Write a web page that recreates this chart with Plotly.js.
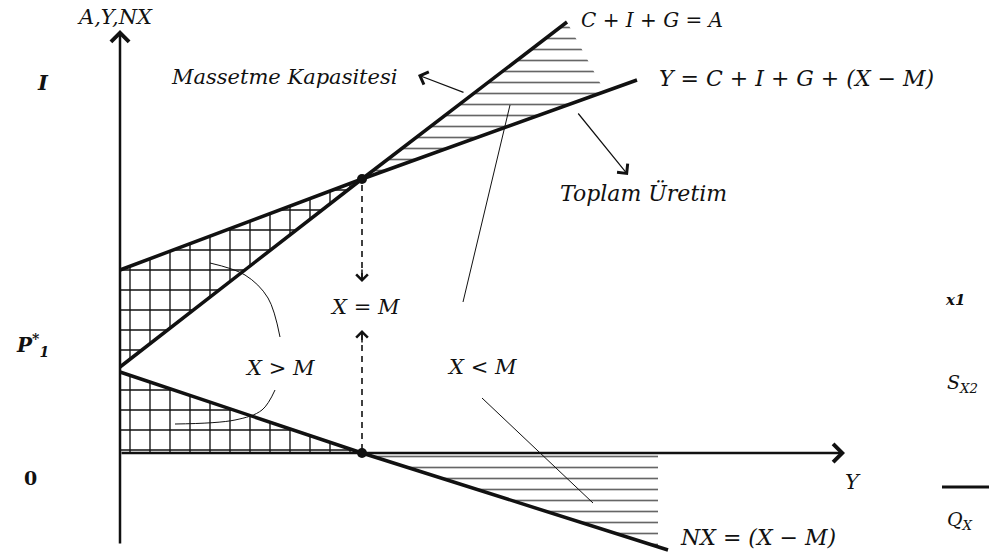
<!DOCTYPE html>
<html>
<head>
<meta charset="utf-8">
<script src="https://cdn.plot.ly/plotly-3.0.1.min.js"></script>
<style>html,body{margin:0;padding:0;background:#fff;}#chart{width:989px;height:559px;}</style>
</head>
<body>
<div id="chart"></div>
<script>
// ---- data (units: income Y on x, A/Y/NX on y; origin at 0,0) ----
const lineA_x = [0, 242, 447];          // C + I + G = A (absorption)
const lineA_y = [86, 274, 431];
const lineY_x = [0, 242, 517];          // Y = C + I + G + (X - M)
const lineY_y = [183, 274, 373];
const lineNX_x = [0, 242, 548];         // NX = (X - M)
const lineNX_y = [81, 0, -97];
const eq_x = [242, 242];                // equilibrium points
const eq_y = [274, 0];
const surplusTop_x = [0, 242, 0];       // X > M region (between Y and A)
const surplusTop_y = [86, 274, 183];
const surplusBot_x = [0, 242, 0];       // X > M region (NX > 0)
const surplusBot_y = [81, 0, 0];
const deficitTop_x = [242, 447, 485];   // X < M region (A above Y)
const deficitTop_y = [274, 431, 361];
const deficitBot_x = [242, 538, 538];   // X < M region (NX < 0)
const deficitBot_y = [0, 0, -94];
const dashUp_x = [242, 242];            // dashed guide from upper equilibrium
const dashUp_y = [268, 172];
const dashDn_x = [242, 242];            // dashed guide from lower equilibrium
const dashDn_y = [3, 121];
const ptrXM1_x = [343, 390];            // X < M pointer lines
const ptrXM1_y = [151, 348];
const ptrXM2_x = [362, 473];
const ptrXM2_y = [55, -50];
const curveGT1_x = [90, 125, 148, 160]; // X > M pointer curves
const curveGT1_y = [190, 178, 155, 116];
const curveGT2_x = [155, 142, 115, 55];
const curveGT2_y = [63, 43, 33, 29];
const rightBar_x = [822, 869];
const rightBar_y = [-34, -34];

// pixel helper for label placement (x0=120px, y0=453px)
const P = (px, py) => ({x: px - 120, y: 453 - py});

const serif = "DejaVu Serif";
const black = "#111";

const grid = {shape: '+', size: 20, solidity: 0.13, fgcolor: '#111', bgcolor: '#fff'};
const dashes = {shape: '-', size: 11, solidity: 0.15, fgcolor: '#666', bgcolor: '#fff'};

const traces = [
  {x: surplusTop_x, y: surplusTop_y, fill: 'toself', mode: 'none', fillcolor: 'rgba(0,0,0,0)', fillpattern: grid},
  {x: surplusBot_x, y: surplusBot_y, fill: 'toself', mode: 'none', fillcolor: 'rgba(0,0,0,0)', fillpattern: grid},
  {x: deficitTop_x, y: deficitTop_y, fill: 'toself', mode: 'none', fillcolor: 'rgba(0,0,0,0)', fillpattern: dashes},
  {x: deficitBot_x, y: deficitBot_y, fill: 'toself', mode: 'none', fillcolor: 'rgba(0,0,0,0)', fillpattern: dashes},
  {x: lineA_x, y: lineA_y, mode: 'lines', line: {color: black, width: 3.5}},
  {x: lineY_x, y: lineY_y, mode: 'lines', line: {color: black, width: 3.5}},
  {x: lineNX_x, y: lineNX_y, mode: 'lines', line: {color: black, width: 3.5}},
  {x: dashUp_x, y: dashUp_y, mode: 'lines', line: {color: black, width: 1.6, dash: '6px,5px'}},
  {x: dashDn_x, y: dashDn_y, mode: 'lines', line: {color: black, width: 1.6, dash: '6px,5px'}},
  {x: ptrXM1_x, y: ptrXM1_y, mode: 'lines', line: {color: black, width: 1}},
  {x: ptrXM2_x, y: ptrXM2_y, mode: 'lines', line: {color: black, width: 1}},
  {x: curveGT1_x, y: curveGT1_y, mode: 'lines', line: {color: black, width: 1, shape: 'spline'}},
  {x: curveGT2_x, y: curveGT2_y, mode: 'lines', line: {color: black, width: 1, shape: 'spline'}},
  {x: rightBar_x, y: rightBar_y, mode: 'lines', line: {color: black, width: 3}},
  {x: eq_x, y: eq_y, mode: 'markers', marker: {color: black, size: 10}}
];

function label(px, py, text, size, extra) {
  const p = P(px, py);
  return Object.assign({x: p.x, y: p.y, xref: 'x', yref: 'y', text: text, showarrow: false,
    xanchor: 'center', yanchor: 'middle',
    font: {family: serif, size: size, color: black, style: 'italic'}}, extra || {});
}
function arrow(tailPx, tailPy, tipPx, tipPy, width, head, hsize) {
  const t = P(tailPx, tailPy), h = P(tipPx, tipPy);
  return {x: h.x, y: h.y, ax: t.x, ay: t.y, xref: 'x', yref: 'y', axref: 'x', ayref: 'y',
    text: '', showarrow: true, arrowhead: head, arrowwidth: width, arrowsize: hsize, arrowcolor: black, standoff: 0};
}

const annotations = [
  // axes
  arrow(120, 545, 120, 30, 2.5, 4, 1.4),
  arrow(120, 453, 845, 453, 2.5, 4, 1.4),
  // dashed arrow heads
  arrow(362, 268, 362, 282, 1.5, 4, 1.5),
  arrow(362, 344, 362, 330, 1.5, 4, 1.5),
  // pointers
  arrow(465, 93, 418, 75, 1.2, 4, 2.2),
  arrow(577, 112, 628, 175, 1.2, 4, 2.2),
  // texts
  label(115, 17, 'A,Y,NX', 21),
  label(43, 82, '<b>I</b>', 21),
  label(284, 77, 'Massetme Kapasitesi', 21),
  label(652, 20, 'C + I + G = A', 20),
  label(796, 78, 'Y = C + I + G + (X − M)', 22),
  label(643, 193, 'Toplam Üretim', 22),
  label(365, 307, 'X = M', 21),
  label(280, 368, 'X &gt; M', 21),
  label(482, 367, 'X &lt; M', 21),
  label(853, 482, 'Y', 21),
  label(758, 537, 'NX = (X − M)', 22),
  label(32, 345, '<b>P<sup>*</sup><sub>1</sub></b>', 20),
  label(30, 478, '<b>0</b>', 19, {font: {family: serif, size: 19, color: black}}),
  label(955, 300, '<b>x1</b>', 15),
  label(962, 383, 'S<sub>X2</sub>', 19),
  label(960, 520, 'Q<sub>X</sub>', 19)
];

const layout = {
  width: 989, height: 559,
  margin: {l: 0, r: 0, t: 0, b: 0},
  paper_bgcolor: '#fff', plot_bgcolor: '#fff',
  showlegend: false,
  xaxis: {range: [-120, 869], visible: false, fixedrange: true},
  yaxis: {range: [-106, 453], visible: false, fixedrange: true},
  annotations: annotations
};

Plotly.newPlot('chart', traces, layout, {displayModeBar: false, staticPlot: true});
</script>
</body>
</html>
